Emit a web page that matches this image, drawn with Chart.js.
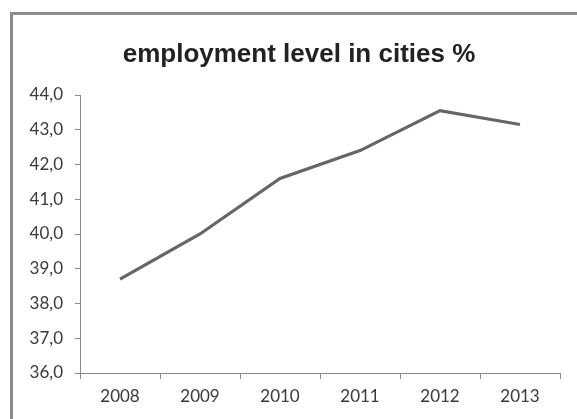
<!DOCTYPE html>
<html>
<head>
<meta charset="utf-8">
<script src="https://cdn.jsdelivr.net/npm/chart.js@4"></script>
<style>
  html, body { margin: 0; padding: 0; background: #fff; }
  #wrap { position: relative; width: 577px; height: 419px; overflow: hidden; }
  #frame {
    position: absolute; left: 10px; top: 12px; width: 620px; height: 460px;
    border-left: 3px solid #8c8c8c; border-top: 3px solid #8c8c8c;
  }
  #chart { position: absolute; left: 0; top: 0; }
</style>
</head>
<body>
<div id="wrap">
  <div id="frame"></div>
  <canvas id="chart" width="577" height="419"></canvas>
</div>
<script>
// employment level in cities, percent per year
const years = ['2008', '2009', '2010', '2011', '2012', '2013'];
const employment = [38.7, 40.0, 41.6, 42.4, 43.55, 43.15];
const yTicks = [36, 37, 38, 39, 40, 41, 42, 43, 44];
const titleText = 'employment level in cities %';

const axisColor = '#8a8a8a';
const tickFont = { family: 'Lato', size: 17 };

// title sits over the whole framed box, slightly left of the plot centre
const boxTitle = {
    id: 'boxTitle',
    afterDraw(chart) {
        const ctx = chart.ctx;
        ctx.save();
        ctx.font = 'bold 26px "Liberation Sans"';
        ctx.fillStyle = '#222';
        ctx.textAlign = 'center';
        ctx.textBaseline = 'middle';
        ctx.fillText(titleText, 299, 55);
        ctx.restore();
    }
};

new Chart(document.getElementById('chart'), {
    type: 'line',
    data: {
        labels: years,
        datasets: [{
            label: titleText,
            data: employment,
            borderColor: '#666666',
            borderWidth: 3.2,
            pointRadius: 0,
            tension: 0,
            fill: false
        }]
    },
    plugins: [boxTitle],
    options: {
        responsive: false,
        animation: false,
        layout: { padding: { left: 0, right: 17, top: 95, bottom: 0 } },
        plugins: {
            legend: { display: false },
            tooltip: { enabled: false },
            title: { display: false }
        },
        scales: {
            x: {
                offset: true,
                grid: { display: true, drawOnChartArea: false, offset: true, tickLength: 6, color: axisColor },
                border: { display: true, color: axisColor, width: 1 },
                ticks: { color: '#3a3a3a', font: tickFont, padding: 7, maxRotation: 0 },
                afterFit: function (scale) { scale.height = 46; }
            },
            y: {
                min: 36,
                max: 44,
                afterBuildTicks: function (scale) {
                    scale.ticks = yTicks.map(v => ({ value: v }));
                },
                grid: { display: true, drawOnChartArea: false, tickLength: 5, color: axisColor },
                border: { display: true, color: axisColor, width: 1 },
                ticks: {
                    color: '#3a3a3a',
                    font: tickFont,
                    padding: 12,
                    callback: v => v.toFixed(1).replace('.', ',')
                },
                afterFit: function (scale) { scale.width = 80; }
            }
        }
    }
});
</script>
</body>
</html>
